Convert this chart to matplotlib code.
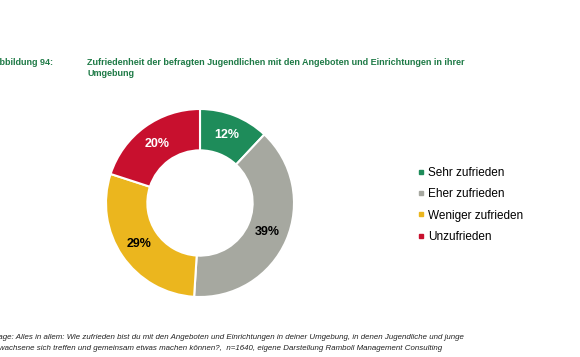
import matplotlib
matplotlib.use("Agg")
import matplotlib.pyplot as plt
from matplotlib.lines import Line2D

plt.rcParams["font.family"] = ["Liberation Sans", "DejaVu Sans"]

# ── data ────────────────────────────────────────────────────────────────────
CATEGORIES = ["Sehr zufrieden", "Eher zufrieden", "Weniger zufrieden", "Unzufrieden"]
SHARES     = [12, 39, 29, 20]
COLORS     = ["#1E8C5A", "#A6A8A0", "#EBB61E", "#C8102E"]
LABEL_COLORS = ["white", "black", "black", "white"]

TITLE_NUM  = "Abbildung 94:"
TITLE_LINES = ["Zufriedenheit der befragten Jugendlichen mit den Angeboten und Einrichtungen in ihrer",
               "Umgebung"]
SOURCE_LINES = ["Frage: Alles in allem: Wie zufrieden bist du mit den Angeboten und Einrichtungen in deiner Umgebung, in denen Jugendliche und junge",
                "Erwachsene sich treffen und gemeinsam etwas machen können?,  n=1640, eigene Darstellung Ramboll Management Consulting"]
GREEN_TXT  = "#1E7A46"

W, H = 580, 357
fig = plt.figure(figsize=(W / 100, H / 100), dpi=100)

# donut
cx, cy, r = 200, 203, 94
ax = fig.add_axes([(cx - r) / W, (H - cy - r) / H, 2 * r / W, 2 * r / H])
wedges, texts, autotexts = ax.pie(
    SHARES, colors=COLORS, startangle=90, counterclock=False,
    autopct="%d%%", pctdistance=0.78,
    wedgeprops=dict(width=0.44, edgecolor="white", linewidth=1.5),
)
for t, c in zip(autotexts, LABEL_COLORS):
    t.set_color(c)
    t.set_fontsize(9)
    t.set_fontweight("bold")
ax.set_xlim(-1, 1); ax.set_ylim(-1, 1)
ax.set_aspect("equal")
ax.axis("off")

# legend
handles = [Line2D([], [], marker="s", linestyle="", markersize=3.5, color=c) for c in COLORS]
fig.legend(handles, CATEGORIES, loc="upper left", bbox_to_anchor=(412 / W, 1 - 162 / H),
           frameon=False, fontsize=8.5, handletextpad=0.15, handlelength=0.8,
           labelspacing=0.8, borderaxespad=0)

# header
fig.text(-7 / W, 1 - 65 / H, TITLE_NUM, color=GREEN_TXT, fontsize=6.5, fontweight="bold",
         va="baseline")
for i, line in enumerate(TITLE_LINES):
    fig.text(87 / W, 1 - (65 + 11 * i) / H, line, color=GREEN_TXT, fontsize=6.5,
             fontweight="bold", va="baseline")

# footnote
for i, line in enumerate(SOURCE_LINES):
    fig.text(-9 / W, 1 - (339 + 11 * i) / H, line, fontsize=5.7, style="italic",
             va="baseline", color="#222222")

fig.savefig("out.png", dpi=100)
